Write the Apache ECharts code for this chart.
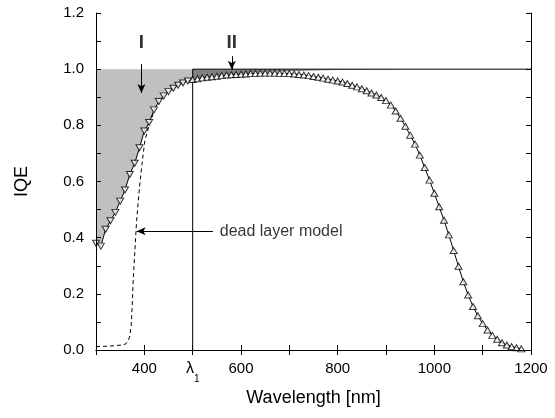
<!DOCTYPE html>
<html>
<head>
<meta charset="utf-8">
<script src="https://cdn.jsdelivr.net/npm/echarts@6/dist/echarts.min.js"></script>
<style>
  html, body { margin: 0; padding: 0; background: #fff; }
  #chart { width: 555px; height: 418px; }
</style>
</head>
<body>
<div id="chart"></div>
<script>
// measured IQE, one point every 10 nm
let wavelength = [300, 310, 320, 330, 340, 350, 360, 370, 380, 390,
    400, 410, 420, 430, 440, 450, 460, 470, 480, 490,
    500, 510, 520, 530, 540, 550, 560, 570, 580, 590,
    600, 610, 620, 630, 640, 650, 660, 670, 680, 690,
    700, 710, 720, 730, 740, 750, 760, 770, 780, 790,
    800, 810, 820, 830, 840, 850, 860, 870, 880, 890,
    900, 910, 920, 930, 940, 950, 960, 970, 980, 990,
    1000, 1010, 1020, 1030, 1040, 1050, 1060, 1070, 1080, 1090,
    1100, 1110, 1120, 1130, 1140, 1150, 1160, 1170, 1180]
let iqe = [0.38, 0.37, 0.43, 0.46, 0.49, 0.53, 0.57, 0.625, 0.665, 0.72,
    0.78, 0.81, 0.855, 0.885, 0.905, 0.92, 0.932, 0.943, 0.951, 0.958,
    0.963, 0.966, 0.969, 0.971, 0.973, 0.975, 0.977, 0.979, 0.980, 0.981,
    0.982, 0.983, 0.984, 0.985, 0.986, 0.986, 0.986, 0.986, 0.985, 0.985,
    0.984, 0.983, 0.981, 0.979, 0.977, 0.974, 0.971, 0.968, 0.964, 0.961,
    0.958, 0.954, 0.949, 0.943, 0.937, 0.930, 0.923, 0.915, 0.908, 0.899,
    0.888, 0.872, 0.851, 0.825, 0.797, 0.765, 0.733, 0.694, 0.650, 0.605,
    0.558, 0.510, 0.462, 0.410, 0.354, 0.298, 0.243, 0.196, 0.155, 0.122,
    0.094, 0.071, 0.052, 0.038, 0.026, 0.018, 0.012, 0.008, 0.004]

// dead layer model (dashed)
let deadX = [300, 330, 355, 362, 367, 370, 373, 375, 377, 381, 384, 390, 395, 401, 410, 420]
let deadY = [0.012, 0.014, 0.018, 0.022, 0.035, 0.05, 0.09, 0.16, 0.25, 0.37, 0.46, 0.58, 0.66, 0.745, 0.80, 0.85]

// lower edge of the dark region II
let region2X = [500, 550, 600, 650, 700, 750, 800, 850, 900, 940, 960]
let region2Y = [0.966, 0.978, 0.985, 0.99, 0.993, 0.995, 0.997, 0.998, 0.999, 1.0, 1.0]

let lambda1 = 500
let xLabelTicks = [400, 600, 800, 1000, 1200]
let yLabelTicks = [0, 0.2, 0.4, 0.6, 0.8, 1.0, 1.2]

let font = "'Liberation Sans', Arial, sans-serif"

let pairs = function (xs, ys) {
    return xs.map(function (x, i) { return [x, ys[i]] })
}
let curve = pairs(wavelength, iqe)
let region1 = curve.filter(function (p) { return p[0] <= lambda1 })
let downPts = curve.filter(function (p) { return p[0] < lambda1 })
let upPts = curve.filter(function (p) { return p[0] >= lambda1 })

let chart = echarts.init(document.getElementById("chart"))

let tickStyle = {show: true, inside: true, length: 5, lineStyle: {color: "#000", width: 1}}
let lineStyle = {show: true, lineStyle: {color: "#000", width: 1}}

let option = {
    animation: false,
    backgroundColor: "#fff",
    grid: {left: 96, right: 24, top: 13, bottom: 68},
    xAxis: [{
        type: "value", min: 300, max: 1200, interval: 100, z: 10,
        axisLine: lineStyle, axisTick: tickStyle, splitLine: {show: false},
        axisLabel: {
            margin: 11, fontSize: 15, color: "#000", fontFamily: font, showMaxLabel: true,
            formatter: function (v) {
                if (v === lambda1) return "{l|λ}{s|1}"
                return xLabelTicks.indexOf(v) >= 0 ? String(v) : ""
            },
            rich: {
                l: {fontSize: 16, fontFamily: font, color: "#000", padding: [0, 0, 7, 0]},
                s: {fontSize: 10, fontFamily: font, color: "#000", verticalAlign: "bottom"}
            }
        },
        name: "Wavelength [nm]", nameLocation: "middle", nameGap: 35,
        nameTextStyle: {fontSize: 18, color: "#000", fontFamily: font}
    }, {
        type: "value", position: "top", min: 300, max: 1200, interval: 100, z: 10,
        axisLine: lineStyle, axisTick: tickStyle, axisLabel: {show: false}, splitLine: {show: false}
    }],
    yAxis: [{
        type: "value", min: 0, max: 1.2, interval: 0.1, z: 10,
        axisLine: lineStyle, axisTick: tickStyle, splitLine: {show: false},
        axisLabel: {
            margin: 12, fontSize: 15, color: "#000", fontFamily: font, showMaxLabel: true,
            formatter: function (v) {
                let hit = yLabelTicks.some(function (t) { return Math.abs(t - v) < 1e-6 })
                return hit ? v.toFixed(1) : ""
            }
        },
        name: "IQE", nameLocation: "middle", nameGap: 65, nameRotate: 90,
        nameTextStyle: {fontSize: 18, color: "#000", fontFamily: font}
    }, {
        type: "value", position: "right", min: 0, max: 1.2, interval: 0.1, z: 10,
        axisLine: lineStyle, axisTick: tickStyle, axisLabel: {show: false}, splitLine: {show: false}
    }],
    series: [
        // gray regions: fill from 1.0 down, then blank out below the curve
        {type: "line", z: 1, symbol: "none", lineStyle: {width: 0},
            areaStyle: {color: "#c0c0c0", opacity: 1}, data: [[300, 1], [lambda1, 1]]},
        {type: "line", z: 1, symbol: "none", lineStyle: {width: 0},
            areaStyle: {color: "#808080", opacity: 1}, data: [[lambda1, 1], [940, 1]]},
        {type: "line", z: 2, symbol: "none", lineStyle: {width: 0},
            areaStyle: {color: "#fff", opacity: 1}, data: region1},
        {type: "line", z: 2, symbol: "none", lineStyle: {width: 0},
            areaStyle: {color: "#fff", opacity: 1}, data: pairs(region2X, region2Y)},
        // lambda1 marker and 1.0 reference
        {type: "line", z: 3, symbol: "none", lineStyle: {color: "#000", width: 1},
            data: [[lambda1, 0], [lambda1, 1], [1200, 1]]},
        // dead layer model
        {type: "line", z: 3, symbol: "none", lineStyle: {color: "#000", width: 1, type: [4, 3]},
            data: pairs(deadX, deadY)},
        // measured curve
        {type: "line", z: 3, symbol: "none", lineStyle: {color: "#000", width: 1}, data: curve},
        {type: "scatter", z: 4, symbol: "triangle", symbolRotate: 180, symbolSize: [7, 6],
            itemStyle: {color: "#fff", borderColor: "#000", borderWidth: 1}, data: downPts},
        {type: "scatter", z: 4, symbol: "triangle", symbolSize: [7, 6],
            itemStyle: {color: "#fff", borderColor: "#000", borderWidth: 1}, data: upPts},
        // annotations
        {type: "scatter", z: 5, symbolSize: 0, data: [
            {value: [394, 1.094], label: {formatter: "I"}},
            {value: [581, 1.094], label: {formatter: "II"}}
        ], label: {show: true, position: "inside", fontSize: 19, fontWeight: "bold", color: "#000", fontFamily: font},
            markLine: {
                silent: true, symbol: ["none", "arrow"], symbolSize: [6, 9],
                lineStyle: {color: "#000", width: 1, type: "solid"}, label: {show: false},
                data: [
                    [{coord: [394, 1.018]}, {coord: [394, 0.915]}],
                    [{coord: [581, 1.046]}, {coord: [581, 0.998]}],
                    [{coord: [542, 0.423]}, {coord: [384, 0.423]}]
                ]
            }},
        {type: "scatter", z: 5, symbolSize: 0, data: [[556, 0.423]],
            label: {show: true, position: "right", distance: 0, formatter: "dead layer model",
                fontSize: 16, color: "#000", fontFamily: font}}
    ]
}
chart.setOption(option)
</script>
</body>
</html>
